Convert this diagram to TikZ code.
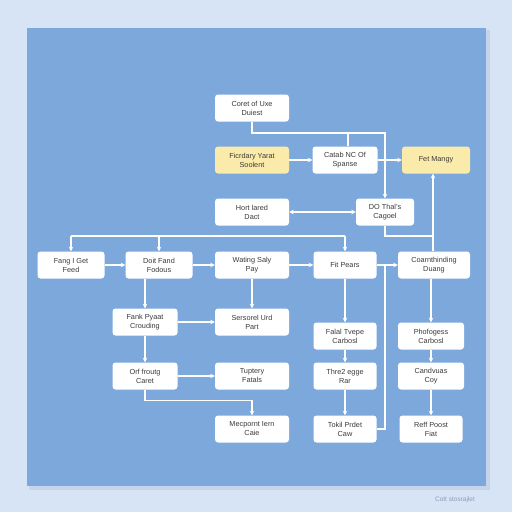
\documentclass[tikz,border=0pt]{standalone}
\usepackage{fontspec}
\setmainfont{Liberation Sans}
\usetikzlibrary{arrows.meta}
\definecolor{pagebg}{HTML}{D7E4F6}
\definecolor{panel}{HTML}{7CA8DC}
\definecolor{shadowc}{HTML}{C3D4EC}
\definecolor{boxy}{HTML}{FBEBAA}
\definecolor{txt}{HTML}{3A3A3A}
\definecolor{capc}{HTML}{8A9CB8}
\tikzset{
  box/.style={fill=white, rounded corners=3pt, minimum height=27pt, align=center,
    inner sep=1pt, text=txt, font=\fontsize{7.3}{9}\selectfont},
  ybox/.style={box, fill=boxy},
  ln/.style={draw=white, line width=1.1pt},
  arr/.style={ln, -{Stealth[length=4.5pt,width=4.5pt]}},
  darr/.style={ln, {Stealth[length=4.5pt,width=4.5pt]}-{Stealth[length=4.5pt,width=4.5pt]}},
}
\begin{document}
\begin{tikzpicture}[x=1pt,y=-1pt]
\useasboundingbox (0,0) rectangle (512,512);
\fill[pagebg] (0,0) rectangle (512,512);
\fill[shadowc] (29,30) rectangle (490,490);
\fill[panel] (27,28) rectangle (486,486);
% nodes
\node[box, minimum width=74pt] (n1) at (252,108) {Coret of Uxe\\Duiest};
\node[ybox, minimum width=74pt] (n2) at (252,160) {Ficrdary Yarat\\Soolent};
\node[box, minimum width=65pt] (n3) at (345,160) {Catab NC Of\\Spanse};
\node[ybox, minimum width=68pt] (n4) at (436,160) {Fet Mangy};
\node[box, minimum width=74pt] (n5) at (252,212) {Hort lared\\Dact};
\node[box, minimum width=58pt] (n6) at (385,212) {DO Thal's\\Cagoel};
\node[box, minimum width=67pt] (fang) at (71,265) {Fang I Get\\Feed};
\node[box, minimum width=67pt] (doit) at (159,265) {Doit Fand\\Fodous};
\node[box, minimum width=74pt] (wat) at (252,265) {Wating Saly\\Pay};
\node[box, minimum width=63pt] (fit) at (345,265) {Fit Pears};
\node[box, minimum width=72pt] (coar) at (434,265) {Coarnthinding\\Duang};
\node[box, minimum width=65pt] (fank) at (145,322) {Fank Pyaat\\Crouding};
\node[box, minimum width=74pt] (sers) at (252,322) {Sersorel Urd\\Part};
\node[box, minimum width=63pt] (falal) at (345,336) {Falal Tvepe\\Carbosl};
\node[box, minimum width=66pt] (phof) at (431,336) {Phofogess\\Carbosl};
\node[box, minimum width=65pt] (orf) at (145,376) {Orf froutg\\Caret};
\node[box, minimum width=74pt] (tupt) at (252,376) {Tuptery\\Fatals};
\node[box, minimum width=63pt] (thre) at (345,376) {Thre2 egge\\Rar};
\node[box, minimum width=66pt] (cand) at (431,376) {Candvuas\\Coy};
\node[box, minimum width=74pt] (mec) at (252,429) {Mecpornt Iern\\Caie};
\node[box, minimum width=63pt] (tok) at (345,429) {Tokil Prdet\\Caw};
\node[box, minimum width=63pt] (reff) at (431,429) {Reff Poost\\Fiat};
\node[font=\fontsize{6.5}{7}\selectfont, text=capc] (cap) at (455,500) {Cott stosrajlet};
% coordinates
\coordinate (t1) at (385,133);
\coordinate (t2) at (348,133);
\coordinate (bus) at (0,236);
\coordinate (vx) at (433,236);
\coordinate (k) at (385,265);
% connectors
\draw[arr] (n1.south) |- (t1) -- (n6.north);
\draw[ln] (t2) -- (t2 |- n3.north);
\draw[arr] (n2) -- (n3);
\draw[arr] (n3) -- (n4);
\draw[darr] (n5) -- (n6);
\draw[ln] (n6.south) |- (vx);
\draw[arr] (coar.north -| vx) -- (n4.south -| vx);
\draw[ln] (fang.north |- bus) -- (fit.north |- bus);
\draw[arr] (fang.north |- bus) -- (fang.north);
\draw[arr] (doit.north |- bus) -- (doit.north);
\draw[arr] (fit.north |- bus) -- (fit.north);
\draw[arr] (fang) -- (doit);
\draw[arr] (doit) -- (wat);
\draw[arr] (wat) -- (fit);
\draw[arr] (fit) -- (coar);
\draw[arr] (fank.north |- doit.south) -- (fank.north);
\draw[arr] (wat) -- (sers);
\draw[arr] (fank) -- (sers);
\draw[arr] (fank) -- (orf);
\draw[arr] (orf) -- (tupt);
\draw[arr] (orf.south) -- ++(0,11) -| (mec.north);
\draw[arr] (fit) -- (falal);
\draw[arr] (falal) -- (thre);
\draw[arr] (thre) -- (tok);
\draw[ln] (k) |- (tok.east);
\draw[arr] (coar.south -| phof.north) -- (phof.north);
\draw[arr] (phof) -- (cand);
\draw[arr] (cand) -- (reff);
\end{tikzpicture}
\end{document}
